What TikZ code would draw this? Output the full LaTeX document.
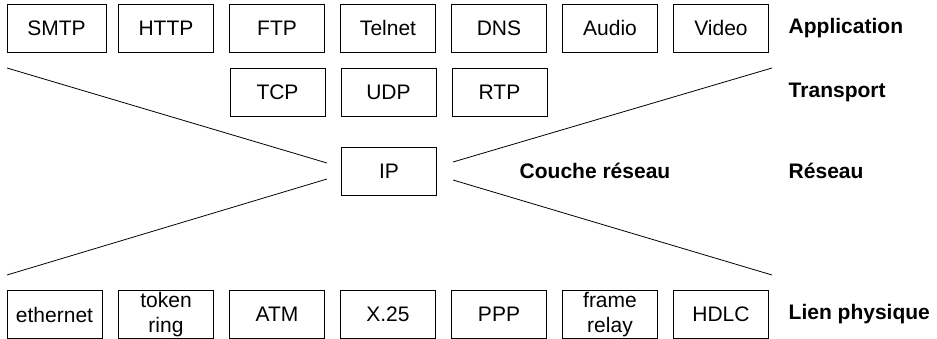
\documentclass[tikz,border=0pt]{standalone}
\usepackage{fontspec}
\setmainfont{Liberation Sans}
\usepackage{tikz}

\begin{document}
\begin{tikzpicture}[
                    x=1pt, y=1pt,
                    line width=0.8pt,
                    node distance=111pt,
                    proto/.style={draw, minimum width=95pt, minimum height=48pt,
                                  inner sep=0pt, align=center,
                                  font=\fontsize{21}{25}\selectfont},
                    layer/.style={anchor=west, font=\fontsize{21}{24}\selectfont\bfseries}
                ]
                \useasboundingbox (0,0) rectangle (937,-339);

                % application
                \node (SMTP)   [proto, minimum width=99pt] at (56.5,-28) {SMTP};
                \node (HTTP)   [proto] at (166,-28)         {HTTP};
                \node (FTP)    [proto, right of=HTTP]       {FTP};
                \node (Telnet) [proto, right of=FTP]        {Telnet};
                \node (DNS)    [proto, right of=Telnet]     {DNS};
                \node (Audio)  [proto, right of=DNS]        {Audio};
                \node (Video)  [proto, right of=Audio]      {Video};

                % transport
                \node (TCP) [proto] at (277.5,-92.5) {TCP};
                \node (UDP) [proto, right of=TCP]    {UDP};
                \node (RTP) [proto, right of=UDP]    {RTP};

                % reseau
                \node (IP) [proto] at (389,-171) {IP};

                % lien physique
                \node (Eth)   [proto] at (54.5,-314.5)   {ethernet};
                \node (Token) [proto] at (166,-314.5)    {token\\ring};
                \node (ATM)   [proto, right of=Token]    {ATM};
                \node (X25)   [proto, right of=ATM]      {X.25};
                \node (PPP)   [proto, right of=X25]      {PPP};
                \node (Frame) [proto, right of=PPP]      {frame\\relay};
                \node (HDLC)  [proto, right of=Frame]    {HDLC};

                % couches
                \node (LApp)  [layer] at (785,-28)    {Application};
                \node (LTra)  [layer] at (785,-92)    {Transport};
                \node (LRes)  [layer] at (785,-171)   {Réseau};
                \node (LLien) [layer] at (785,-314.5) {Lien physique};
                \node (Couche) [layer] at (516,-171)  {Couche réseau};

                % sablier
                \coordinate (LT) at (7,-68);
                \coordinate (LB) at (7,-275);
                \coordinate (RT) at (772,-68);
                \coordinate (RB) at (772,-275);
                \coordinate (IPlt) at (327,-163);
                \coordinate (IPlb) at (327,-179);
                \coordinate (IPrt) at (453,-162);
                \coordinate (IPrb) at (453,-180);

                \path
                (LT) edge (IPlt)
                (LB) edge (IPlb)
                (RT) edge (IPrt)
                (RB) edge (IPrb)
                ;
            \end{tikzpicture}
\end{document}
